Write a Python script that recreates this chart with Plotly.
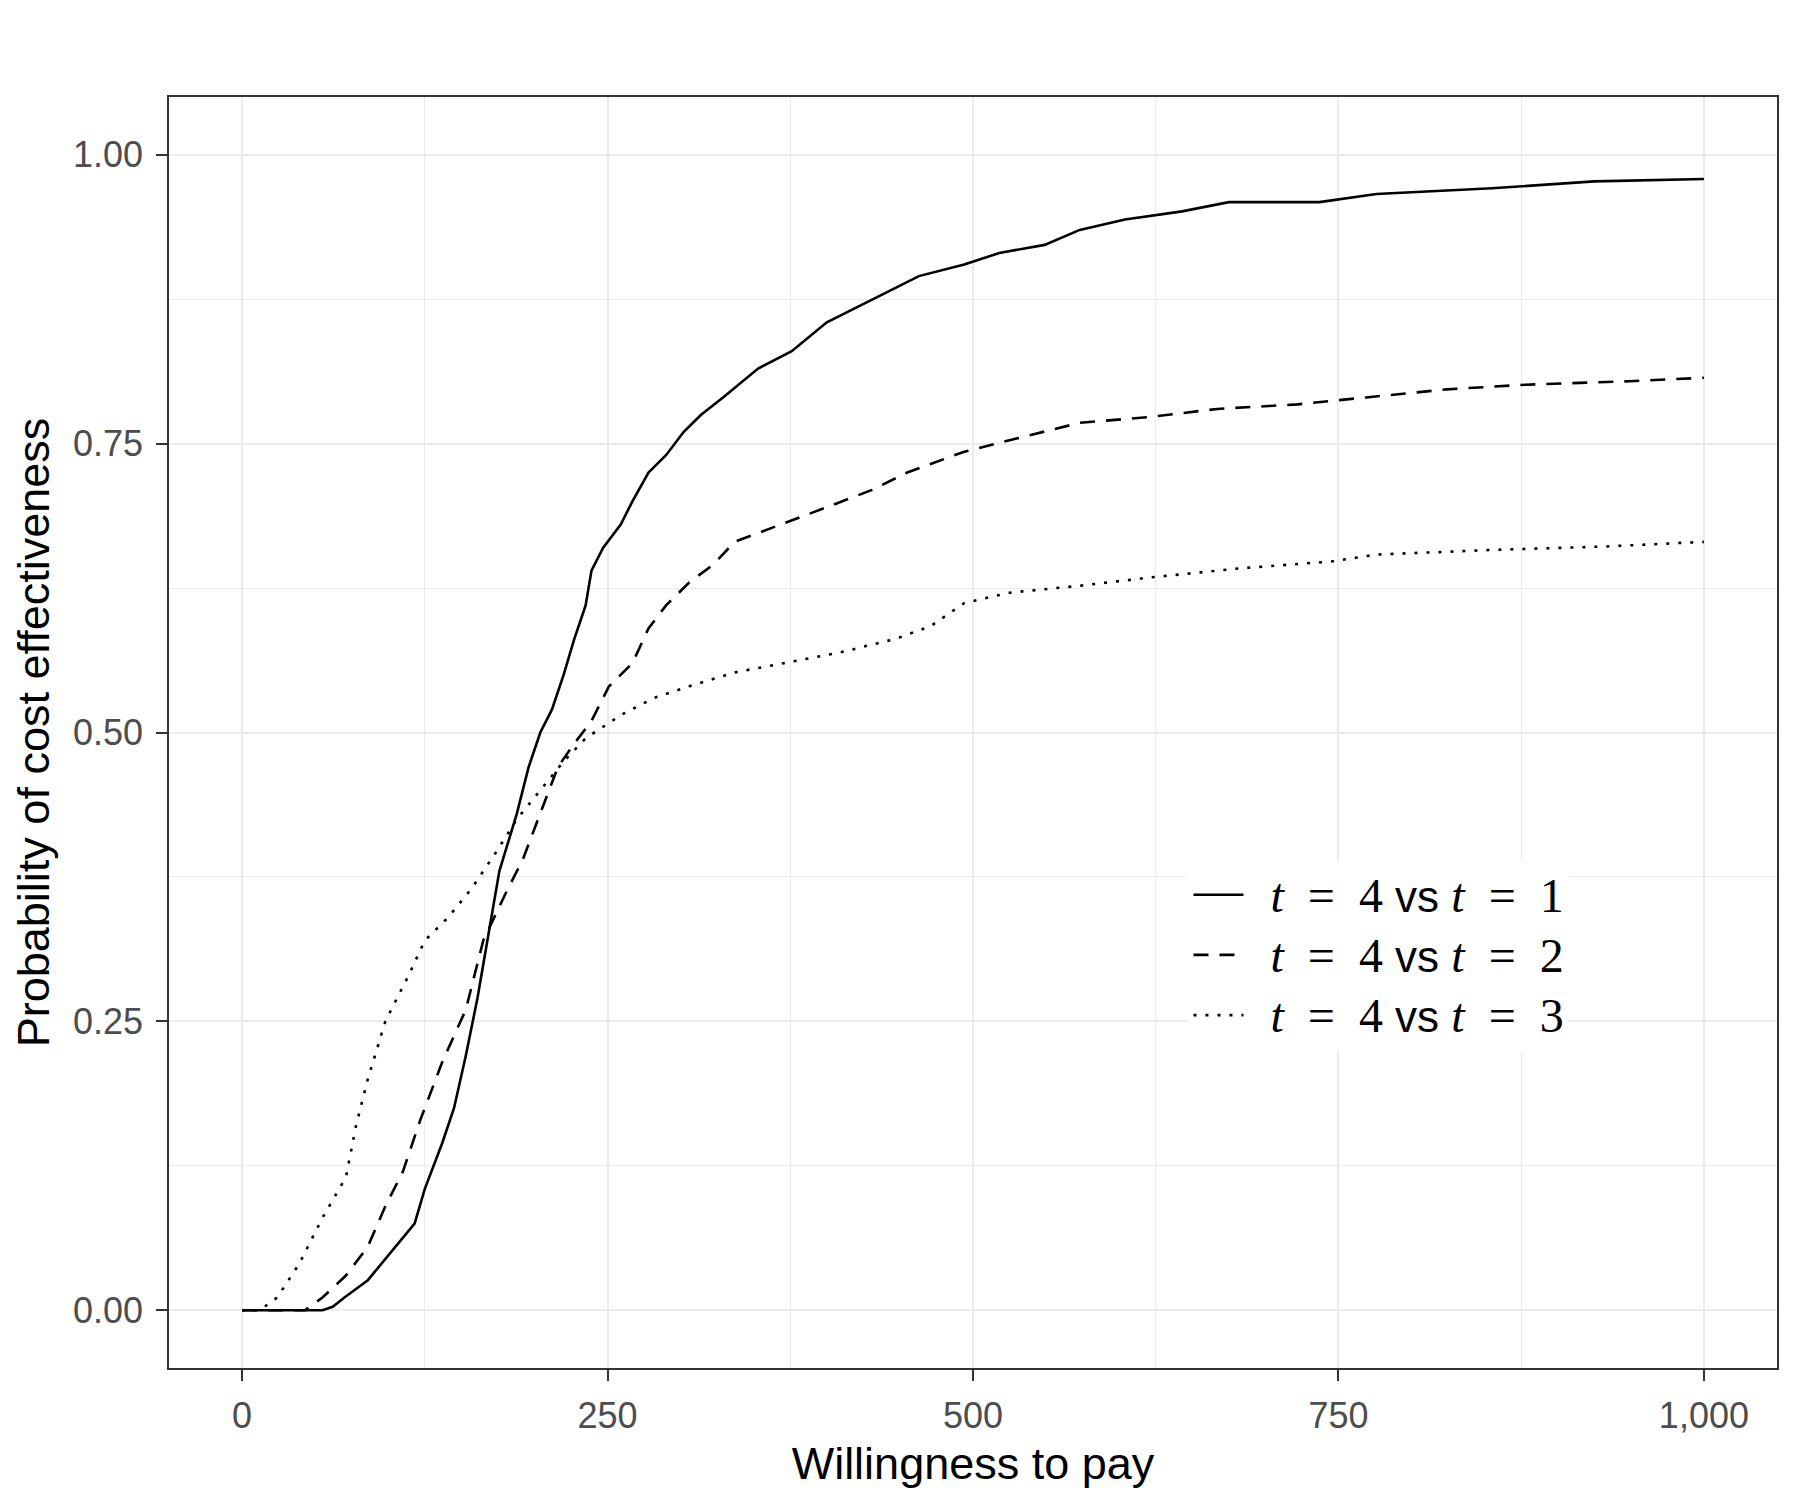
import plotly.graph_objects as go

# Willingness-to-pay values and probability of cost effectiveness
wtp_1 = [0, 55, 62, 70, 86, 102, 118, 125, 137, 145, 153, 161, 169, 176, 188, 196, 204, 212, 220, 227,
         235, 239, 247, 259, 267, 278, 290, 302, 314, 329, 353, 376, 400, 431, 463, 494, 518, 549,
         573, 604, 643, 675, 737, 776, 855, 925, 1000]
prob_1 = [0, 0, 0.003, 0.011, 0.026, 0.05, 0.075, 0.105, 0.145, 0.175, 0.22, 0.27, 0.33, 0.38, 0.43, 0.47,
          0.50, 0.52, 0.55, 0.58, 0.61, 0.64, 0.66, 0.68, 0.70, 0.725, 0.74, 0.76, 0.775, 0.79, 0.815,
          0.83, 0.855, 0.875, 0.895, 0.905, 0.915, 0.922, 0.935, 0.944, 0.951, 0.959, 0.959, 0.966,
          0.971, 0.977, 0.979]

wtp_2 = [0, 43, 55, 71, 86, 98, 110, 122, 137, 153, 165, 180, 192, 204, 216, 227, 239, 251, 267, 278,
         290, 306, 322, 337, 369, 400, 431, 455, 494, 518, 541, 573, 620, 667, 722, 769, 824, 878,
         949, 1000]
prob_2 = [0, 0, 0.011, 0.03, 0.055, 0.09, 0.12, 0.165, 0.215, 0.26, 0.32, 0.36, 0.39, 0.43, 0.47, 0.49,
          0.51, 0.54, 0.56, 0.59, 0.61, 0.63, 0.645, 0.665, 0.68, 0.695, 0.71, 0.725, 0.743, 0.751,
          0.758, 0.768, 0.773, 0.78, 0.784, 0.79, 0.797, 0.801, 0.804, 0.807]

wtp_3 = [0, 12, 24, 39, 55, 71, 78, 86, 98, 114, 125, 141, 157, 173, 188, 204, 220, 235, 259, 282,
         306, 337, 376, 408, 447, 471, 494, 525, 573, 620, 682, 745, 776, 855, 933, 1000]
prob_3 = [0, 0, 0.011, 0.04, 0.08, 0.115, 0.16, 0.2, 0.25, 0.29, 0.32, 0.34, 0.365, 0.395, 0.425, 0.45,
          0.475, 0.495, 0.515, 0.53, 0.54, 0.552, 0.561, 0.569, 0.581, 0.592, 0.612, 0.621, 0.627,
          0.634, 0.642, 0.648, 0.654, 0.658, 0.661, 0.665]

x_tickvals = [0, 250, 500, 750, 1000]
x_ticktext = ["0", "250", "500", "750", "1,000"]
y_tickvals = [0, 0.25, 0.5, 0.75, 1.0]
y_ticktext = ["0.00", "0.25", "0.50", "0.75", "1.00"]

SERIF = "Liberation Serif"
SP = "\u2002"  # en space, mimics TeX spacing around '='


def math(expr):
    return f'<span style="font-family:{SERIF};font-size:48px">{expr}</span>'


def label(k):
    return f"{SP}{math('<i>t</i>' + SP + '=' + SP + '4')} vs {math('<i>t</i>' + SP + '=' + SP + str(k))}"


fig = go.Figure()
fig.add_trace(go.Scatter(x=wtp_1, y=prob_1, mode="lines", name=label(1),
                         line=dict(color="black", width=2.6, dash="solid")))
fig.add_trace(go.Scatter(x=wtp_2, y=prob_2, mode="lines", name=label(2),
                         line=dict(color="black", width=2.6, dash="15px,11px")))
fig.add_trace(go.Scatter(x=wtp_3, y=prob_3, mode="lines", name=label(3),
                         line=dict(color="black", width=2.6, dash="3px,9px")))

axis_common = dict(
    showline=True, mirror=True, linecolor="#333333", linewidth=1.6,
    ticks="outside", ticklen=11, tickwidth=1.6, tickcolor="#333333",
    showgrid=True, gridcolor="#EBEBEB", gridwidth=1.6,
    zeroline=False,
    tickfont=dict(family="Liberation Sans", size=36, color="#4D4D4D"),
)

fig.update_xaxes(
    range=[-50, 1050], tickvals=x_tickvals, ticktext=x_ticktext,
    minor=dict(tickvals=[125, 375, 625, 875], showgrid=True, gridcolor="#EBEBEB", gridwidth=0.8, ticks=""),
    title=dict(text="Willingness to pay", font=dict(family="Liberation Sans", size=45, color="black"), standoff=12),
    ticklabelstandoff=4,
    **axis_common,
)
fig.update_yaxes(
    range=[-0.05, 1.05], tickvals=y_tickvals, ticktext=y_ticktext,
    minor=dict(tickvals=[0.125, 0.375, 0.625, 0.875], showgrid=True, gridcolor="#EBEBEB", gridwidth=0.8, ticks=""),
    title=dict(text="Probability of cost effectiveness", font=dict(family="Liberation Sans", size=45, color="black"), standoff=14),
    ticklabelstandoff=6,
    **axis_common,
)

fig.update_layout(
    width=1800, height=1500,
    margin=dict(l=161, r=31, t=89, b=140),
    paper_bgcolor="white", plot_bgcolor="white",
    showlegend=True,
    legend=dict(
        x=0.634, y=0.40, xanchor="left", yanchor="top",
        bgcolor="white", borderwidth=0,
        font=dict(family="Liberation Sans", size=44, color="black"),
        itemwidth=50, tracegroupgap=0,
    ),
)

fig.write_html("out.html")
